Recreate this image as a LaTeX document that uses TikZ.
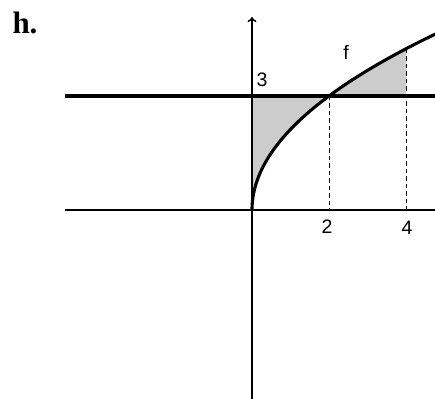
\documentclass[tikz,border=0pt]{standalone}
\usepackage{fontspec}
\setmainfont{Liberation Serif}
\newfontfamily\arialfont{Liberation Sans}
\usetikzlibrary{arrows.meta}
\tikzset{
  axisline/.style={line width=1.5pt, black},
  boldline/.style={line width=3.1pt, black},
  dashline/.style={line width=0.9pt, dash pattern=on 4.5pt off 3pt, black},
  shade/.style={fill=black!20},
  lbl/.style={font=\arialfont\fontsize{19.5}{22}\selectfont, inner sep=0pt},
}
\begin{document}
\begin{tikzpicture}[x=38.5pt,y=38pt]
\clip (-252pt,-188pt) rectangle (183pt,210pt);
\coordinate (O) at (0,0);
\coordinate (L) at (-187pt,0);
\coordinate (R) at (190pt,0);
\coordinate (B) at (0,-190pt);
\coordinate (T) at (0,193pt);
\coordinate (HL) at (-187pt,3);
\coordinate (HR) at (190pt,3);
\coordinate (P2) at (2,3);
\coordinate (Q2) at (2,0);
\coordinate (P4) at (4,{3*sqrt(2)});
\coordinate (Q4) at (4,0);
\coordinate (A3) at (0,3);
\coordinate (B4) at (4,3);
% shaded regions
\fill[shade] (A3) -- (O) -- plot[domain=0:3,samples=80] ({2*\x*\x/9},\x) -- cycle;
\fill[shade] (P2) -- plot[domain=3:4.2426,samples=60] ({2*\x*\x/9},\x) -- (B4) -- cycle;
% dashed verticals
\draw[dashline] (P2) -- (Q2);
\draw[dashline] (P4) -- (Q4);
% axes
\draw[axisline,-{To[length=5pt,width=9pt]}] (L) -- (R);
\draw[axisline,-{To[length=5pt,width=9pt]}] (B) -- (T);
% line y=3
\draw[boldline] (HL) -- (HR);
% curve
\draw[boldline] plot[domain=0:5.2,samples=150] ({2*\x*\x/9},\x);
% labels
\node[lbl] (l3) at (10pt,130pt) {3};
\node[lbl] (lf) at (94pt,158pt) {f};
\node[lbl] (l2) at (75pt,-17pt) {2};
\node[lbl] (l4) at (155pt,-18pt) {4};
\node[font=\bfseries\fontsize{31}{34}\selectfont, inner sep=0pt] (h) at (-227pt,187pt) {h.};
\end{tikzpicture}
\end{document}
